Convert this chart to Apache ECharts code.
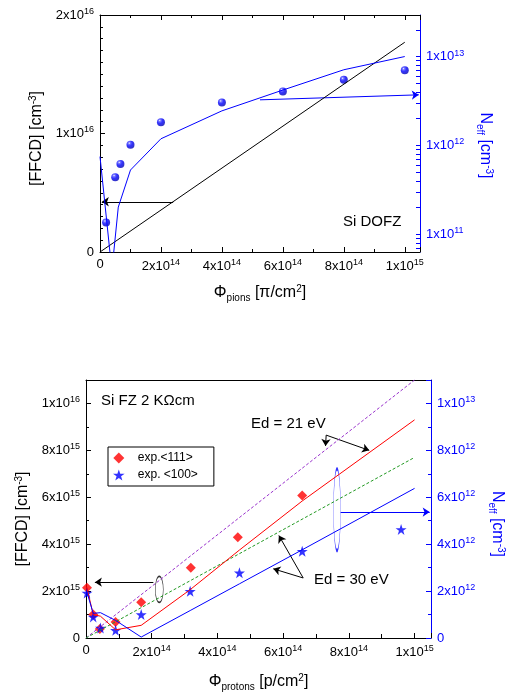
<!DOCTYPE html>
<html>
<head>
<meta charset="utf-8">
<script src="https://cdn.jsdelivr.net/npm/echarts@6/dist/echarts.min.js"></script>
<style>
  html, body { margin: 0; padding: 0; background: #fff; }
  #chart { width: 514px; height: 696px; }
</style>
</head>
<body>
<div id="chart"></div>
<script>
const FONT = '"Liberation Sans", Arial, sans-serif';
const BLUE = '#0000ff';

// top panel: Si DOFZ, pions
const pionExpFluence = [0.2e14, 0.5e14, 0.67e14, 1e14, 2e14, 4e14, 6e14, 8e14, 1e15];
const pionNeffExp = [1.36e11, 4.4e11, 6.2e11, 1.02e12, 1.83e12, 3.04e12, 4.05e12, 5.47e12, 7.0e12];
const pionSimFluence = [0, 0.39e14, 0.6e14, 1e14, 2e14, 4e14, 6e14, 8e14, 1e15];
const pionNeffSim = [7.5e11, 3.9e10, 2.03e11, 5.3e11, 1.19e12, 2.45e12, 4.2e12, 7.1e12, 1e13];
const pionFfcdFluence = [0, 1e15];
const pionFfcd = [0, 1.77e16];
const neffLogLabels = [1e11, 1e12, 1e13];

// bottom panel: Si FZ 2 KOhm cm, protons
const exp111Fluence = [0.03e14, 0.22e14, 0.42e14, 0.9e14, 1.68e14, 3.19e14, 4.62e14, 6.58e14];
const exp111Neff = [2.14e12, 1.0e12, 0.38e12, 0.68e12, 1.52e12, 2.99e12, 4.3e12, 6.08e12];
const exp100Fluence = [0.03e14, 0.22e14, 0.44e14, 0.9e14, 1.68e14, 3.17e14, 4.67e14, 6.58e14, 9.59e14];
const exp100Neff = [1.92e12, 0.9e12, 0.43e12, 0.33e12, 1.0e12, 1.99e12, 2.78e12, 3.70e12, 4.63e12];
const simFluence = [0.02e14, 0.22e14, 0.44e14, 0.9e14, 1.68e14, 3.17e14, 4.67e14, 6.58e14, 1e15];
const neffEd21 = [2.18e12, 1.0e12, 0.93e12, 0.35e12, 0.54e12, 2.06e12, 3.75e12, 5.84e12, 9.3e12];
const neffEd30 = [1.99e12, 1.05e12, 1.08e12, 0.75e12, 0.04e12, 1.17e12, 2.31e12, 3.76e12, 6.38e12];
const ffcdFluence = [0, 1e15];
const ffcdEd21 = [0, 1.1e16];
const ffcdEd30 = [0, 7.7e15];

// annotation arrows [from, to]
const pionArrowFfcd = [[2.4e14, 4.24e15], [0.06e14, 4.24e15]];
const pionArrowNeff = [[5.25e14, 3.26e12], [1.046e15, 3.71e12]];
const protonArrowFfcd = [[2.05e14, 2.38e15], [0.27e14, 2.38e15]];
const protonArrowNeff = [[7.75e14, 5.37e12], [1.046e15, 5.37e12]];
const ed21Arrows = [[[7.31e14, 8.65e12], [8.62e14, 8.0e12]], [[7.31e14, 8.65e12], [7.29e14, 8.19e12]]];
const ed30Arrows = [[[6.61e14, 2.56e12], [5.70e14, 2.95e12]], [[6.61e14, 2.56e12], [5.87e14, 4.37e12]]];
const ffcdEllipse = [2.23e14, 2.07e15];
const neffEllipse = [7.64e14, 5.47e12];

function pairs(xs, ys) { return xs.map((x, i) => [x, ys[i]]); }

function sci(v) {
  if (v === 0) return '0';
  const e = Math.floor(Math.log10(v) + 1e-9);
  const m = Math.round(v / Math.pow(10, e));
  return m + 'x10{s|' + e + '}';
}

const logMinor = [];
for (let e = 10; e <= 13; e++) for (let k = 1; k <= 9; k++) logMinor.push(k * Math.pow(10, e));

const rich = {
  s: { fontSize: 9, fontFamily: FONT, padding: [0, 0, 7, 0] },
  b: { fontSize: 10, fontFamily: FONT, padding: [9, 0, 0, 0] }
};
function labelStyle(color) {
  return { fontSize: 13, fontFamily: FONT, color: color, margin: 6, rich: rich };
}
function nameStyle(color, pad) {
  return { fontSize: 16, fontFamily: FONT, color: color, padding: pad, rich: {
    s: { fontSize: 10, fontFamily: FONT, color: color, padding: [0, 0, 8, 0] },
    b: { fontSize: 10, fontFamily: FONT, color: color, padding: [10, 0, 0, 0] }
  } };
}
function tick(color, len) {
  return { show: true, inside: true, length: len, lineStyle: { color: color, width: 1 } };
}
function axLine(color) { return { show: true, onZero: false, lineStyle: { color: color, width: 1 } }; }

function arrowSeries(data, color, xi, yi) {
  return {
    type: 'lines', coordinateSystem: 'cartesian2d', xAxisIndex: xi, yAxisIndex: yi,
    symbol: ['none', 'arrow'], symbolSize: 7, silent: true,
    lineStyle: { color: color, width: 1, opacity: 1 },
    data: data.map(c => ({ coords: c }))
  };
}
function ellipseSeries(point, size, color, xi, yi) {
  return {
    type: 'scatter', xAxisIndex: xi, yAxisIndex: yi, symbol: 'circle', symbolSize: size, silent: true,
    itemStyle: { color: 'rgba(0,0,0,0)', borderColor: color, borderWidth: 1 },
    data: [point]
  };
}

const DIAMOND = 'path://M5,0L10,5L5,10L0,5Z';
const STAR = 'path://M50,0L61.8,35.1L98.1,35.1L68.7,56.8L79.4,91L50,70L20.6,91L31.3,56.8L1.9,35.1L38.2,35.1Z';

const chart = echarts.init(document.getElementById('chart'));
chart.setOption({
  animation: false,
  backgroundColor: '#fff',
  grid: [
    { left: 100, top: 15, width: 320, height: 237 },
    { left: 86, top: 380, width: 347, height: 258 }
  ],
  legend: {
    orient: 'vertical', left: 108, top: 447, padding: [5, 16, 5, 5],
    itemWidth: 20, itemHeight: 11, itemGap: 5,
    borderColor: '#000', borderWidth: 1, borderRadius: 0,
    textStyle: { fontSize: 12, fontFamily: FONT, color: '#000', padding: [0, 0, 0, 4] },
    data: ['exp.<111>', 'exp. <100>']
  },
  xAxis: [
    {
      gridIndex: 0, type: 'value', position: 'bottom', min: 0, max: 1.05e15, interval: 2e14,
      axisLine: axLine('#000'), axisTick: tick('#000', 5),
      minorTick: Object.assign(tick('#000', 3), { splitNumber: 2 }),
      splitLine: { show: false },
      axisLabel: Object.assign(labelStyle('#000'), { formatter: v => v > 1.01e15 ? '' : sci(v) }),
      name: 'Φ{b|pions} [π/cm{s|2}]', nameLocation: 'middle', nameGap: 31,
      nameTextStyle: nameStyle('#000', [0, 0, 0, 0])
    },
    {
      gridIndex: 0, type: 'value', position: 'top', min: 0, max: 1.05e15, interval: 2e14,
      axisLine: axLine('#000'), axisTick: tick('#000', 5),
      minorTick: Object.assign(tick('#000', 3), { splitNumber: 2 }),
      splitLine: { show: false }, axisLabel: { show: false }
    },
    {
      gridIndex: 1, type: 'value', position: 'bottom', min: 0, max: 1.05e15, interval: 2e14,
      axisLine: axLine('#000'), axisTick: tick('#000', 5),
      minorTick: Object.assign(tick('#000', 4), { splitNumber: 2 }),
      splitLine: { show: false },
      axisLabel: Object.assign(labelStyle('#000'), { formatter: v => v > 1.01e15 ? '' : sci(v) }),
      name: 'Φ{b|protons} [p/cm{s|2}]', nameLocation: 'middle', nameGap: 34,
      nameTextStyle: nameStyle('#000', [0, 0, 0, 0])
    },
    {
      gridIndex: 1, type: 'value', position: 'top', min: 0, max: 1.05e15,
      axisLine: axLine('#000'), axisTick: { show: false },
      splitLine: { show: false }, axisLabel: { show: false }
    }
  ],
  yAxis: [
    {
      gridIndex: 0, type: 'value', position: 'left', min: 0, max: 2e16, interval: 1e16,
      axisLine: axLine('#000'), axisTick: tick('#000', 5),
      minorTick: Object.assign(tick('#000', 3), { splitNumber: 10 }),
      splitLine: { show: false },
      axisLabel: Object.assign(labelStyle('#000'), { formatter: sci }),
      name: '[FFCD] [cm{s|-3}]', nameLocation: 'middle', nameRotate: 90, nameGap: 48,
      nameTextStyle: nameStyle('#000', [0, 10, 0, 0])
    },
    {
      gridIndex: 0, type: 'log', position: 'right', min: 6.35e10, max: 2.93e13,
      axisLine: axLine(BLUE),
      axisTick: Object.assign(tick(BLUE, 4), { customValues: logMinor }),
      splitLine: { show: false },
      axisLabel: Object.assign(labelStyle(BLUE), { customValues: neffLogLabels, formatter: sci }),
      name: 'N{b|eff} [cm{s|-3}]', nameLocation: 'middle', nameRotate: -90, nameGap: 50,
      nameTextStyle: nameStyle(BLUE, [0, 0, 0, 24])
    },
    {
      gridIndex: 1, type: 'value', position: 'left', min: 0, max: 1.1e16, interval: 2e15,
      axisLine: axLine('#000'), axisTick: tick('#000', 5),
      minorTick: Object.assign(tick('#000', 3), { splitNumber: 2 }),
      splitLine: { show: false },
      axisLabel: Object.assign(labelStyle('#000'), { formatter: v => v > 1.01e16 ? '' : sci(v) }),
      name: '[FFCD] [cm{s|-3}]', nameLocation: 'middle', nameRotate: 90, nameGap: 52,
      nameTextStyle: nameStyle('#000', [0, 20, 0, 0])
    },
    {
      gridIndex: 1, type: 'value', position: 'right', min: 0, max: 1.1e13, interval: 2e12,
      axisLine: axLine(BLUE), axisTick: tick(BLUE, 5),
      minorTick: Object.assign(tick(BLUE, 3), { splitNumber: 2 }),
      splitLine: { show: false },
      axisLabel: Object.assign(labelStyle(BLUE), { formatter: v => v > 1.01e13 ? '' : sci(v) }),
      name: 'N{b|eff} [cm{s|-3}]', nameLocation: 'middle', nameRotate: -90, nameGap: 56,
      nameTextStyle: nameStyle(BLUE, [0, 0, 0, 30])
    }
  ],
  graphic: [
    { type: 'text', left: 343, top: 214, style: { text: 'Si DOFZ', font: '15px ' + FONT, fill: '#000' } },
    { type: 'text', left: 101, top: 393, style: { text: 'Si FZ 2 KΩcm', font: '15px ' + FONT, fill: '#000' } },
    { type: 'text', left: 251, top: 416, style: { text: 'Ed = 21 eV', font: '15px ' + FONT, fill: '#000' } },
    { type: 'text', left: 314, top: 572, style: { text: 'Ed = 30 eV', font: '15px ' + FONT, fill: '#000' } }
  ],
  series: [
    {
      type: 'line', xAxisIndex: 0, yAxisIndex: 0, symbol: 'none', silent: true,
      lineStyle: { color: '#000', width: 1 }, data: pairs(pionFfcdFluence, pionFfcd)
    },
    {
      type: 'line', xAxisIndex: 0, yAxisIndex: 1, symbol: 'none', silent: true,
      lineStyle: { color: BLUE, width: 1 }, data: pairs(pionSimFluence, pionNeffSim)
    },
    {
      type: 'scatter', xAxisIndex: 0, yAxisIndex: 1, symbol: 'circle', symbolSize: 8,
      itemStyle: {
        color: new echarts.graphic.RadialGradient(0.35, 0.3, 0.7, [
          { offset: 0, color: '#ffffff' }, { offset: 0.18, color: '#5a5aff' },
          { offset: 0.5, color: '#0000ff' }, { offset: 1, color: '#0000b8' }
        ])
      },
      data: pairs(pionExpFluence, pionNeffExp)
    },
    arrowSeries([pionArrowFfcd], '#000', 0, 0),
    arrowSeries([pionArrowNeff], BLUE, 0, 1),

    {
      type: 'line', xAxisIndex: 2, yAxisIndex: 2, symbol: 'none', silent: true,
      lineStyle: { color: '#9933cc', width: 1, type: [3, 2] }, data: pairs(ffcdFluence, ffcdEd21)
    },
    {
      type: 'line', xAxisIndex: 2, yAxisIndex: 2, symbol: 'none', silent: true,
      lineStyle: { color: '#229922', width: 1, type: [3, 2] }, data: pairs(ffcdFluence, ffcdEd30)
    },
    {
      type: 'line', xAxisIndex: 2, yAxisIndex: 3, symbol: 'none', silent: true,
      lineStyle: { color: '#ff0000', width: 1 }, data: pairs(simFluence, neffEd21)
    },
    {
      type: 'line', xAxisIndex: 2, yAxisIndex: 3, symbol: 'none', silent: true,
      lineStyle: { color: BLUE, width: 1 }, data: pairs(simFluence, neffEd30)
    },
    {
      name: 'exp.<111>', type: 'scatter', xAxisIndex: 2, yAxisIndex: 3, symbol: DIAMOND, symbolSize: 10,
      itemStyle: { color: '#ff0000' }, data: pairs(exp111Fluence, exp111Neff)
    },
    {
      name: 'exp. <100>', type: 'scatter', xAxisIndex: 2, yAxisIndex: 3, symbol: STAR, symbolSize: 11,
      itemStyle: { color: BLUE }, data: pairs(exp100Fluence, exp100Neff)
    },
    arrowSeries([protonArrowFfcd], '#000', 2, 2),
    arrowSeries([protonArrowNeff], BLUE, 2, 3),
    arrowSeries(ed21Arrows.concat(ed30Arrows), '#000', 2, 3),
    ellipseSeries(ffcdEllipse, [8, 26], '#000', 2, 2),
    ellipseSeries(neffEllipse, [7, 82], BLUE, 2, 3)
  ]
});
</script>
</body>
</html>
